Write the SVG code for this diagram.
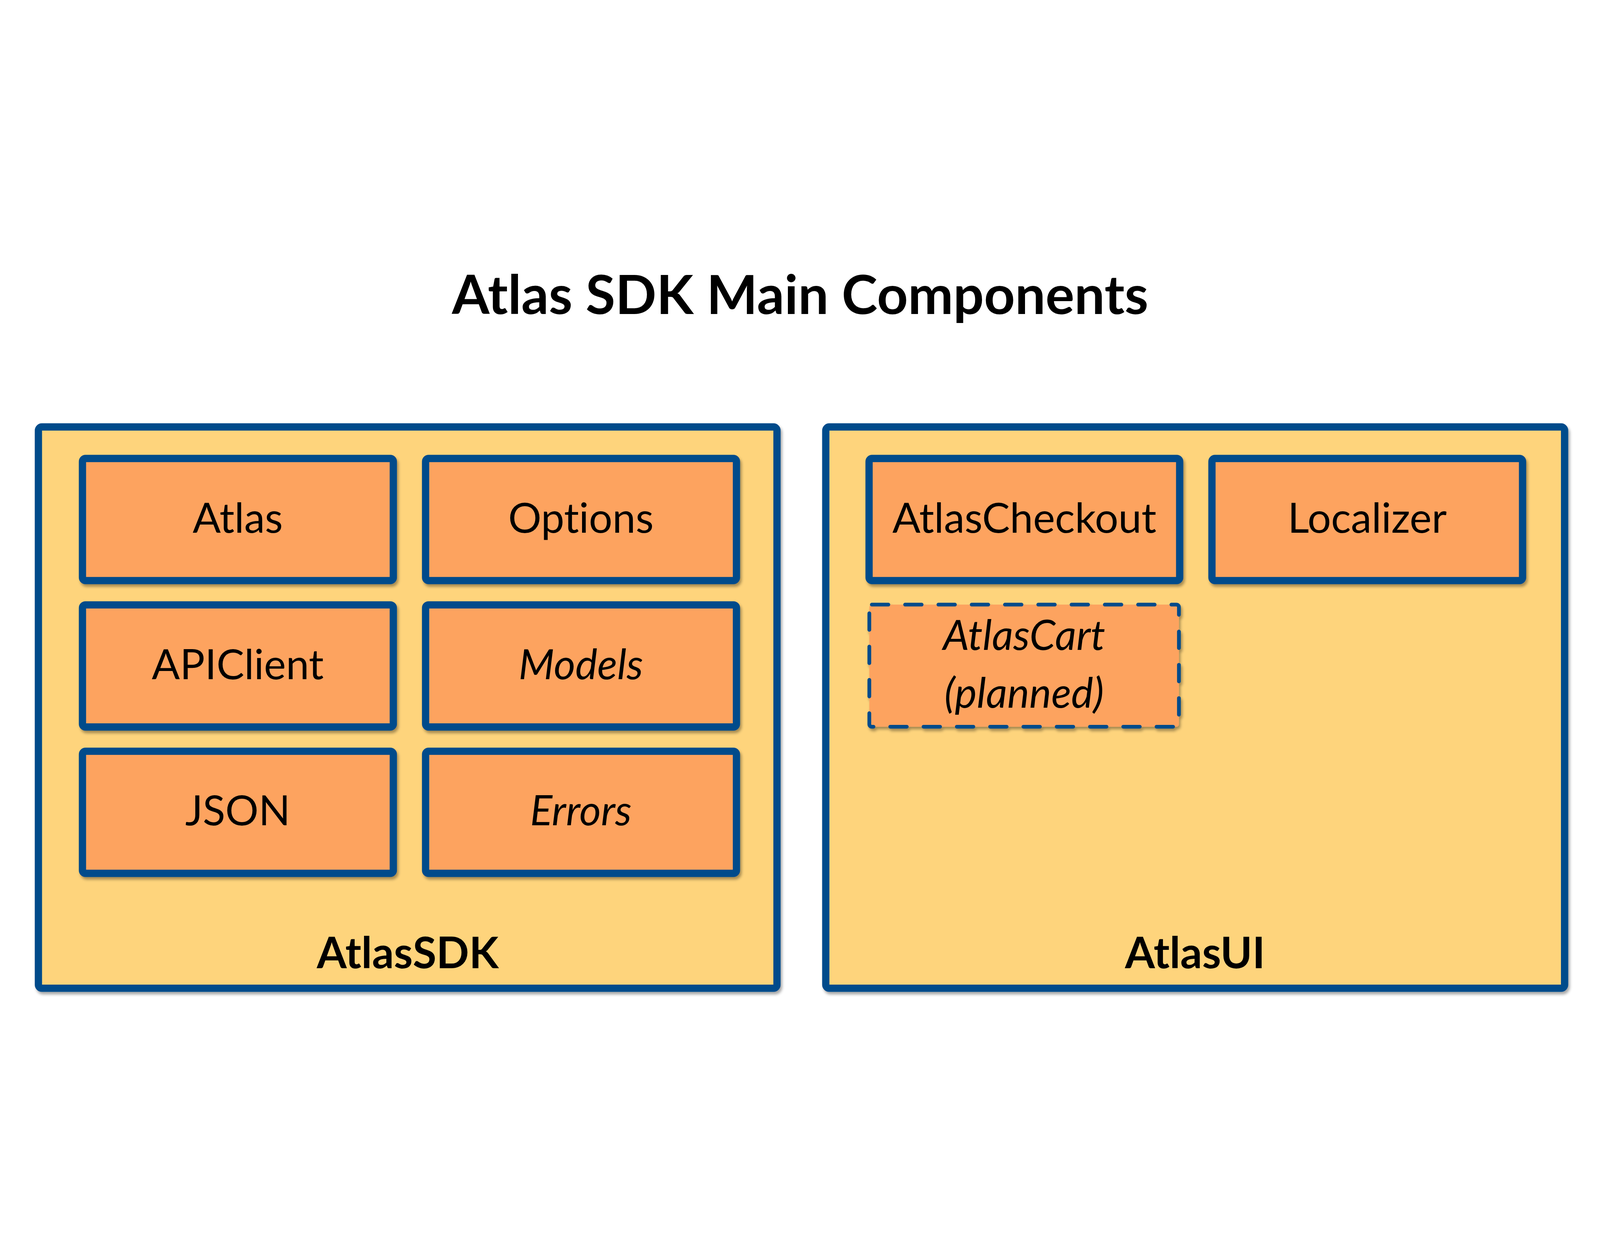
<svg xmlns="http://www.w3.org/2000/svg" width="6393" height="3180" viewBox="0 0 6393 3180" preserveAspectRatio="xMidYMid meet">
<defs>
<filter id="sh" x="-5%" y="-5%" width="110%" height="115%">
<feDropShadow dx="6" dy="10" stdDeviation="6" flood-color="#000" flood-opacity="0.35"/>
</filter>
<style>
svg{width:100vw;height:100vh}
.outer{fill:#FED47B;stroke:#004B8B;stroke-width:29;filter:url(#sh)}
.box{fill:#FDA35F;stroke:#004B8B;stroke-width:29;filter:url(#sh)}
.dash{fill:#FDA35F;stroke:#004B8B;stroke-width:15;stroke-dasharray:66 67;stroke-linecap:round;filter:url(#sh)}
text{font-family:Lato,"Noto Sans","Liberation Sans",sans-serif;fill:#000;text-anchor:middle;font-variant-ligatures:none}
.lbl{font-size:166px}
.it{font-style:italic}
.grp{font-size:172px;font-weight:bold}
.title{font-size:216px;font-weight:bold}
</style>
</defs>
<rect width="6393" height="3180" fill="#fff"/>
<text class="title" x="3197" y="363">Atlas SDK Main Components</text>
<g id="AtlasSDK">
<rect class="outer" x="153.5" y="814.5" width="2951" height="2243" rx="14"/>
<text class="grp" x="1629" y="2978">AtlasSDK</text>
</g>
<g id="AtlasUI">
<rect class="outer" x="3299.5" y="814.5" width="2952" height="2243" rx="14"/>
<text class="grp" x="4775" y="2978">AtlasUI</text>
</g>
<g id="Atlas">
<rect class="box" x="329.5" y="940.5" width="1242" height="488" rx="12"/>
<text class="lbl" x="950" y="1237">Atlas</text>
</g>
<g id="Options">
<rect class="box" x="1700.5" y="940.5" width="1242" height="488" rx="12"/>
<text class="lbl" x="2321" y="1237">Options</text>
</g>
<g id="APIClient">
<rect class="box" x="329.5" y="1525.5" width="1242" height="488" rx="12"/>
<text class="lbl" x="950" y="1822">APIClient</text>
</g>
<g id="Models">
<rect class="box" x="1700.5" y="1525.5" width="1242" height="488" rx="12"/>
<text class="lbl it" x="2321" y="1822">Models</text>
</g>
<g id="JSON">
<rect class="box" x="329.5" y="2110.5" width="1242" height="488" rx="12"/>
<text class="lbl" x="950" y="2407">JSON</text>
</g>
<g id="Errors">
<rect class="box" x="1700.5" y="2110.5" width="1242" height="488" rx="12"/>
<text class="lbl it" x="2321" y="2407">Errors</text>
</g>
<g id="AtlasCheckout">
<rect class="box" x="3472.5" y="940.5" width="1241" height="488" rx="12"/>
<text class="lbl" x="4093" y="1237">AtlasCheckout</text>
</g>
<g id="Localizer">
<rect class="box" x="4842.5" y="940.5" width="1241" height="488" rx="12"/>
<text class="lbl" x="5463" y="1237">Localizer</text>
</g>
<g id="AtlasCart">
<rect class="dash" x="3473.5" y="1524.5" width="1237" height="488" rx="10"/>
<text class="lbl it" x="4092" y="1706">AtlasCart</text>
<text class="lbl it" x="4092" y="1937">(planned)</text>
</g>
<g id="connectors"/>
</svg>
